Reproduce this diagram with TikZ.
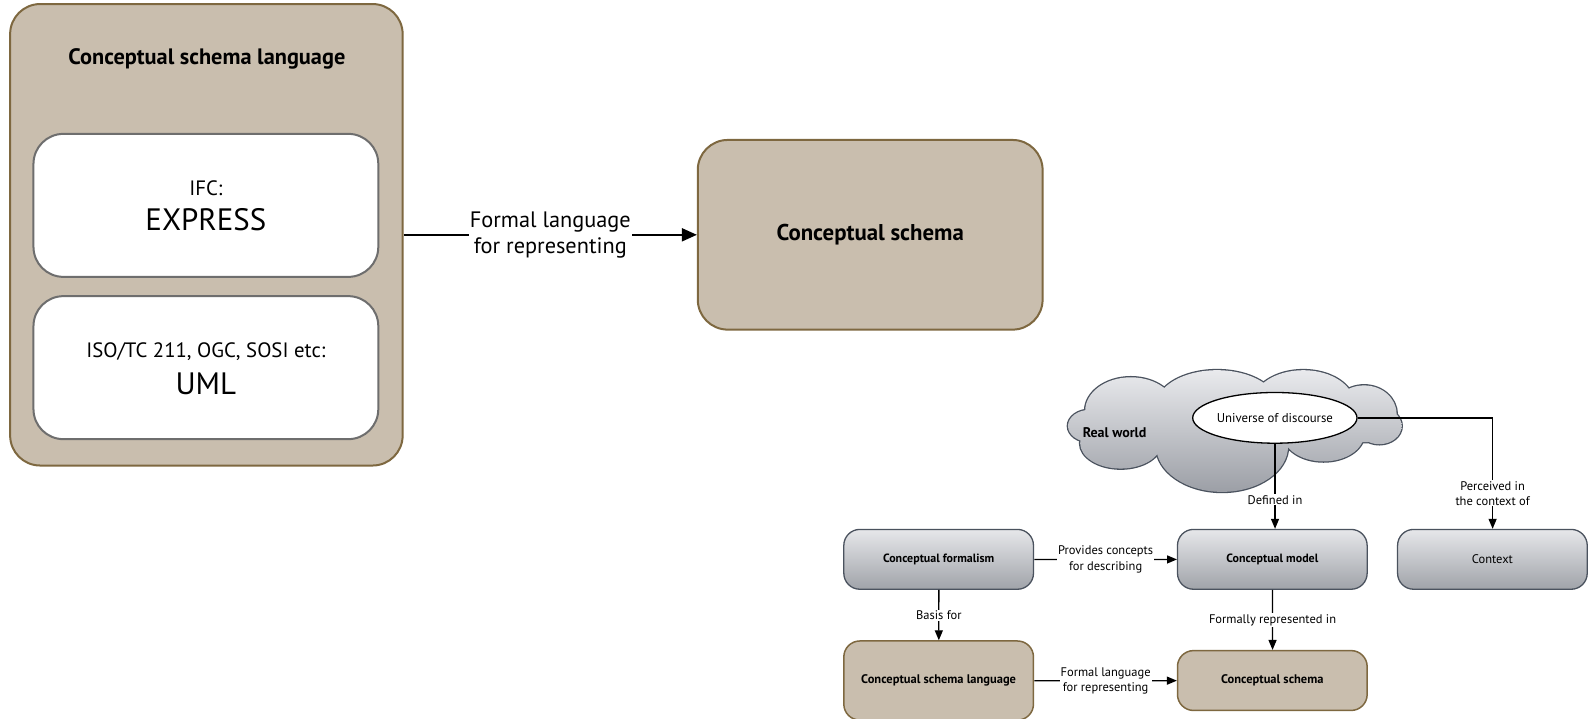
\documentclass[tikz,border=0pt]{standalone}
\usepackage{fontspec}
\setmainfont{PT Sans}
\usetikzlibrary{arrows.meta,shapes.geometric}
\definecolor{tanfill}{HTML}{C9BEAE}
\definecolor{tanborder}{HTML}{7E6840}
\definecolor{innerborder}{HTML}{6E6E6E}
\definecolor{graytop}{HTML}{E6E7EA}
\definecolor{graybot}{HTML}{A0A3A9}
\definecolor{grayborder}{HTML}{4A525E}
\definecolor{cloudtop}{HTML}{E9EAED}
\definecolor{cloudbot}{HTML}{9C9FA6}
\newcommand\cloudpuffs{%
  (1075,420) ellipse[x radius=22, y radius=16]
  (1115,405) ellipse[x radius=45, y radius=33]
  (1200,400) ellipse[x radius=60, y radius=35]
  (1285,398) ellipse[x radius=50, y radius=33]
  (1345,408) ellipse[x radius=32, y radius=28]
  (1360,420) ellipse[x radius=22, y radius=18]
  (1305,428) ellipse[x radius=40, y radius=27]
  (1205,440) ellipse[x radius=65, y radius=45]
  (1105,437) ellipse[x radius=40, y radius=25]}
\begin{document}
\begin{tikzpicture}[x=1pt,y=-1pt,scale=1.0142,every node/.append style={transform shape},
  bigtan/.style={draw=tanborder, fill=tanfill, line width=2pt, rounded corners=#1, align=center},
  whitebox/.style={draw=innerborder, fill=white, line width=2pt, rounded corners=30pt, minimum width=340pt, minimum height=141pt},
  graybox/.style={draw=grayborder, line width=1.3pt, top color=graytop, bottom color=graybot, rounded corners=16pt, minimum width=187pt, minimum height=59pt, font=\bfseries\fontsize{11.8}{14}\selectfont},
  smalltan/.style={draw=tanborder, fill=tanfill, line width=1.5pt, rounded corners=16pt, minimum width=187pt, minimum height=59pt, font=\bfseries\fontsize{12.3}{14}\selectfont},
  bigarr/.style={line width=2pt, -{Triangle[length=15pt,width=13pt]}},
  smarr/.style={line width=1.3pt, -{Triangle[length=10pt,width=8pt]}},
  biglbl/.style={fill=white, inner sep=1pt, align=center, font=\fontsize{22}{26}\selectfont},
  smlbl/.style={fill=white, inner sep=1pt, align=center, font=\fontsize{12.3}{15}\selectfont}
]
\useasboundingbox (0,0) rectangle (1566.75,708.93);
\fill[white] (0,0) rectangle (1566.75,708.93);

% ---------- left / top diagram ----------
\node[bigtan=30pt, minimum width=387pt, minimum height=455pt] (outer) at (203.5,231.5) {};
\node[font=\bfseries\fontsize{22}{26}\selectfont] (title) at (204,58) {Conceptual schema language};
\node[whitebox] (ifc) at (203,202.5) {};
\node[font=\fontsize{20.5}{24}\selectfont] (ifct) at (203,186) {IFC:};
\node[font=\fontsize{30.5}{34}\selectfont] (expr) at (203,217) {EXPRESS};
\node[whitebox] (iso) at (203,362.5) {};
\node[font=\fontsize{20.5}{24}\selectfont] (isot) at (203,347) {ISO/TC 211, OGC, SOSI etc:};
\node[font=\fontsize{30.5}{34}\selectfont] (uml) at (203,378) {UML};

\node[bigtan=30pt, minimum width=340pt, minimum height=187pt, font=\bfseries\fontsize{22.5}{26}\selectfont] (cs) at (858,231.5) {Conceptual schema};
\draw[bigarr] (outer.east) -- node[biglbl] {Formal language\\for representing} (cs.west);

% ---------- bottom right diagram ----------
\draw[grayborder, line width=2.6pt] \cloudpuffs;
\shade[top color=cloudtop, bottom color=cloudbot] \cloudpuffs (1215,420) ellipse[x radius=140, y radius=22];
\node[font=\bfseries\fontsize{13.8}{16}\selectfont] (rw) at (1099,427) {Real world};
\node[ellipse, draw=black, fill=white, line width=1.3pt, minimum width=158pt, minimum height=50pt, inner sep=0pt, font=\fontsize{12.6}{15}\selectfont] (ue) at (1257,412) {Universe of discourse};

\node[graybox] (cf) at (925.5,551.5) {Conceptual formalism};
\node[graybox] (cm) at (1254.5,551.5) {Conceptual model};
\node[graybox, font=\fontsize{12.3}{14}\selectfont] (ctx) at (1471.5,551.5) {Context};
\node[smalltan, minimum height=78pt] (csl) at (925.5,671) {Conceptual schema language};
\node[smalltan] (csm) at (1254.5,671) {Conceptual schema};

\draw[smarr] (ue.south) -- node[smlbl, pos=0.66] {Defined in} (ue.south |- cm.north);
\draw[smarr] (ue.east) -| node[smlbl, pos=0.84] {Perceived in\\the context of} (ctx.north);
\draw[smarr] (cf) -- node[smlbl] {Provides concepts\\for describing} (cm);
\draw[smarr] (cf) -- node[smlbl] {Basis for} (csl);
\draw[smarr] (cm) -- node[smlbl] {Formally represented in} (csm);
\draw[smarr] (csl) -- node[smlbl] {Formal language\\for representing} (csm);
\end{tikzpicture}
\end{document}
